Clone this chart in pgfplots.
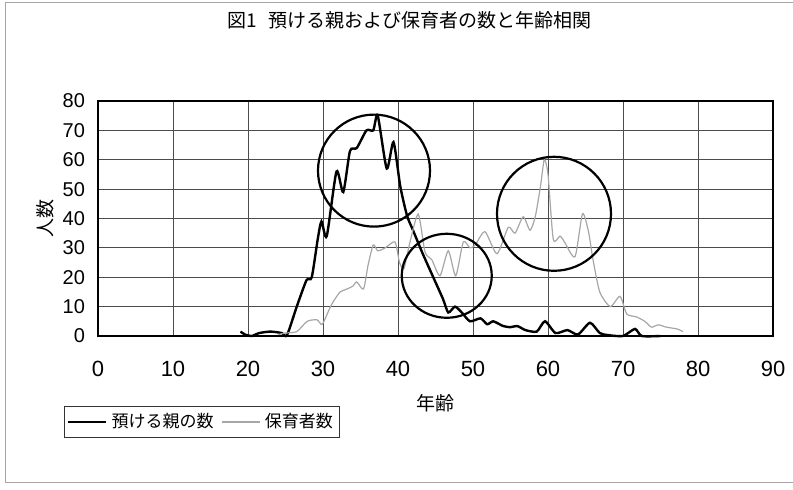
\documentclass[border=0pt]{standalone}
\usepackage{pgfplots}
\pgfplotsset{compat=1.18}
\usepackage{fontspec}
\setmainfont{Liberation Sans}
\newfontfamily\jp{Noto Sans CJK JP}
\begin{document}
\begin{tikzpicture}
\useasboundingbox (0,0) rectangle (396.5pt,245pt);
\draw[gray!70, line width=0.5pt] (396.5pt,243.5pt) -- (2.5pt,243.5pt) -- (2.5pt,3.5pt) -- (396.5pt,3.5pt);
\begin{axis}[
  at={(49pt,77pt)}, anchor=south west,
  scale only axis, width=337.5pt, height=117.5pt,
  xmin=0, xmax=90, ymin=0, ymax=80,
  xtick={0,10,...,90}, ytick={0,10,...,80},
  grid=major,
  major grid style={black!70, line width=0.45pt},
  axis line style={black, line width=0.6pt},
  tick style={draw=none},
  /pgf/number format/assume math mode=true,
  xticklabel style={font=\fontsize{11}{12}\selectfont, yshift=-9pt},
  yticklabel style={font=\fontsize{10}{11}\selectfont, xshift=-3pt},
  xlabel={\jp 年齢},
  xlabel style={at={(axis description cs:0.5,-0.285)}, anchor=center, font=\fontsize{9.5}{11}\selectfont},
  ylabel={\jp 人数},
  ylabel style={at={(axis description cs:-0.0785,0.5)}, anchor=center, font=\fontsize{9.5}{11}\selectfont},
  title={\jp 図1\hspace{0.6em}預ける親および保育者の数と年齢相関},
  title style={at={(axis description cs:0.461,1.345)}, anchor=center, yshift=-6pt, font=\fontsize{9.5}{11}\selectfont},
  legend columns=2,
  legend style={at={(axis description cs:0.154,-0.366)}, anchor=center, draw=black!80, line width=0.4pt,
    font=\fontsize{8.5}{10}\selectfont\jp, inner sep=1.5pt,
    /tikz/every even column/.append style={column sep=2pt}},
  legend image code/.code={\draw[#1] (0pt,0pt) -- (19pt,0pt);},
  clip=false,
]
\addplot[black, line width=1.2pt, smooth, tension=0.4] coordinates {
(19,1.5)(19.6,0.5)(20.5,0)(21.5,1)(23,1.5)(24.5,1)(25.2,0.3)(26.5,10)(27.8,19)(28.5,20)(29.3,33)(29.8,39)(30.5,34)(31.8,56)(32.7,49)(33.6,63)(34.5,64)(35.8,70)(36.7,70)(37.3,75)(38.5,57)(39.4,66)(40.3,51)(41.2,41)(42,36)(43.3,28)(44.7,20)(46,12.6)(46.7,8)(47.6,10)(48.5,8)(49.6,5)(51,6)(51.9,4)(52.7,5)(54,3.4)(55,3)(55.9,3.4)(57,2)(58.5,1.5)(59.6,5)(61,1)(62.6,2)(64,0.5)(65.6,4.5)(66.9,1)(68,0.3)(70,0)(71.6,2.4)(72.5,0)(75,0)
};
\addlegendentry{預ける親の数}
\addplot[gray!70, line width=0.6pt, smooth, tension=0.4] coordinates {
(24,0.5)(25,1)(26.5,1.5)(27.9,5)(29.2,5.5)(29.9,4)(31,10)(31.6,12.6)(32.3,15)(33.2,16)(34,17)(34.5,18.4)(35.4,16)(36,24)(36.7,31)(37.3,29)(38.3,30)(39.6,32)(40.2,25)(40.8,23)(41.6,32)(42.7,41.5)(43.6,28.6)(44.5,26)(45.6,20.5)(46.7,29)(47.7,20.5)(48.7,32)(49.6,30)(50.3,31)(51.6,35.5)(53.2,28)(54.7,37)(55.6,35)(56.7,40.6)(57.6,36)(58.3,40.6)(59,51)(59.5,60)(60,55)(60.7,33)(61.6,34)(62.2,32)(63.6,27)(64.6,41.6)(65.4,35.5)(66,26)(66.9,15)(68.3,10)(69.6,13.5)(70.5,7.5)(71.8,6.5)(72.9,5)(73.8,3)(74.7,3.8)(75.8,3)(77.2,2.4)(78,1.5)
};
\addlegendentry{保育者数}
\draw[black, line width=1.1pt] (axis cs:36.8,56.3) circle[radius=28pt];
\draw[black, line width=1.1pt] (axis cs:46.5,20.5) ellipse[x radius=22.5pt, y radius=21pt];
\draw[black, line width=1.1pt] (axis cs:60.8,41.6) circle[radius=28.5pt];
\end{axis}
\end{tikzpicture}
\end{document}
